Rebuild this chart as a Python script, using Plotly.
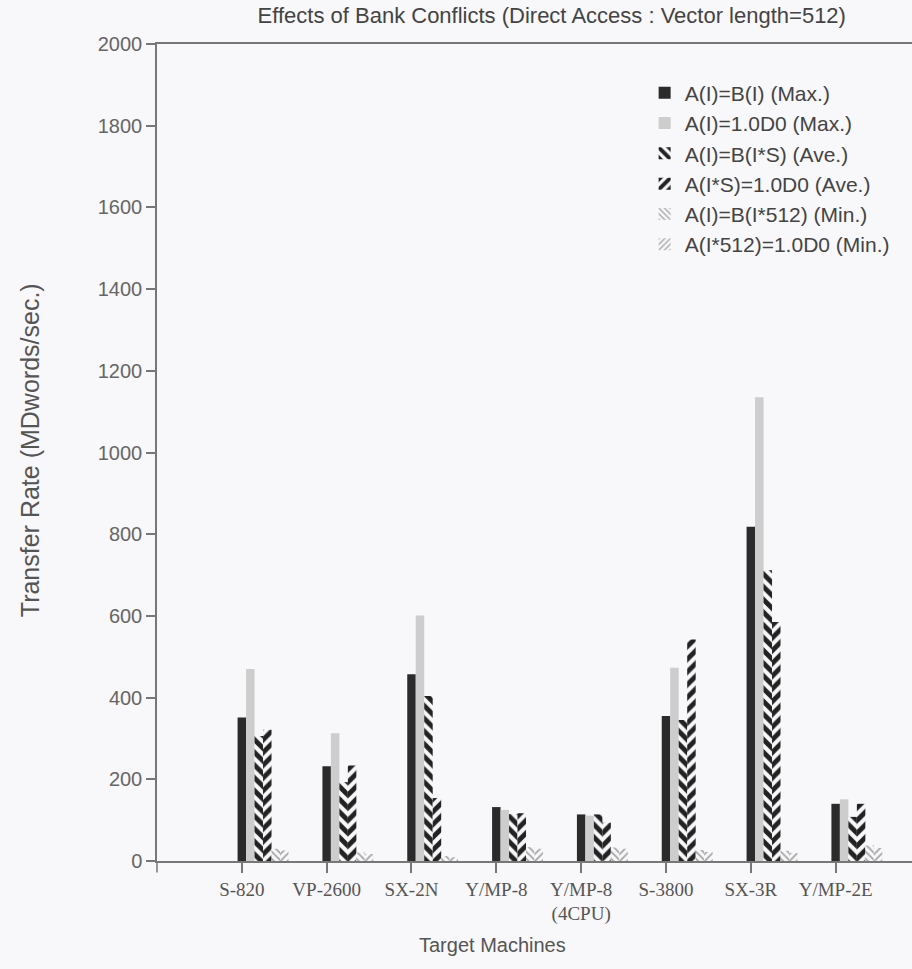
import plotly.graph_objects as go

machines = ["S-820", "VP-2600", "SX-2N", "Y/MP-8", "Y/MP-8<br>(4CPU)", "S-3800", "SX-3R", "Y/MP-2E"]
positions = [1, 2, 3, 4, 5, 6, 7, 8]

series_names = [
    "A(I)=B(I) (Max.)",
    "A(I)=1.0D0 (Max.)",
    "A(I)=B(I*S) (Ave.)",
    "A(I*S)=1.0D0 (Ave.)",
    "A(I)=B(I*512) (Min.)",
    "A(I*512)=1.0D0 (Min.)",
]
copy_max = [351, 232, 457, 132, 114, 355, 818, 140]
fill_max = [470, 313, 601, 125, 111, 473, 1135, 151]
copy_ave = [306, 193, 404, 115, 114, 345, 712, 108]
fill_ave = [321, 234, 154, 117, 94, 542, 585, 140]
copy_min = [30, 21, 12, 34, 33, 27, 25, 38]
fill_min = [26, 17, 9, 30, 30, 22, 20, 32]
series_values = [copy_max, fill_max, copy_ave, fill_ave, copy_min, fill_min]

tick_vals_y = [0, 200, 400, 600, 800, 1000, 1200, 1400, 1600, 1800, 2000]

bg = "#f8f7f9"
styles = [
    dict(color="#2b2b2b", pattern=None),
    dict(color="#cdcdcd", pattern=None),
    dict(color=bg, pattern=dict(shape="\\", fgcolor="#222222", bgcolor=bg, size=9, solidity=0.55, fillmode="replace")),
    dict(color=bg, pattern=dict(shape="/", fgcolor="#222222", bgcolor=bg, size=9, solidity=0.55, fillmode="replace")),
    dict(color=bg, pattern=dict(shape="\\", fgcolor="#a8a8a8", bgcolor=bg, size=5, solidity=0.35, fillmode="replace")),
    dict(color=bg, pattern=dict(shape="/", fgcolor="#a8a8a8", bgcolor=bg, size=5, solidity=0.35, fillmode="replace")),
]

bw = 0.1
fig = go.Figure()
for k, (name, vals, st) in enumerate(zip(series_names, series_values, styles)):
    marker = dict(color=st["color"], line=dict(width=0))
    if st["pattern"] is not None:
        marker["pattern"] = st["pattern"]
    fig.add_trace(go.Bar(
        x=positions, y=vals, name=name,
        width=bw, offset=-bw / 2 + k * bw,
        marker=marker,
    ))

axis_col = "#777777"
sans = "Liberation Sans, Arial, sans-serif"
fig.update_layout(
    width=912, height=969,
    paper_bgcolor=bg, plot_bgcolor=bg,
    barmode="overlay",
    margin=dict(l=157, r=0, t=44, b=108),
    title=dict(
        text="Effects of Bank Conflicts (Direct Access : Vector length=512)",
        x=0.605, xanchor="center", y=1 - 15 / 969, yanchor="middle",
        font=dict(family=sans, size=22, color="#444444"),
    ),
    xaxis=dict(
        range=[0, 8.9], tickvals=positions, ticktext=machines,
        showline=True, linecolor=axis_col, linewidth=1.5, mirror=True,
        ticks="outside", ticklen=10, tickcolor=axis_col, tickwidth=1.5,
        showgrid=False, zeroline=False,
        tickfont=dict(family="Liberation Serif, Times New Roman, serif", size=19, color="#555555"),
    ),
    yaxis=dict(
        range=[0, 2000], tickvals=tick_vals_y,
        showline=True, linecolor=axis_col, linewidth=1.5,
        ticks="outside", ticklen=9, tickcolor=axis_col, tickwidth=1.5,
        showgrid=False, zeroline=False,
        tickfont=dict(family=sans, size=20, color="#666666"),
    ),
    legend=dict(
        x=0.977, xanchor="right", y=0.965, yanchor="top",
        bgcolor="rgba(0,0,0,0)", borderwidth=0,
        font=dict(family=sans, size=21, color="#444444"),
        tracegroupgap=0,
    ),
    showlegend=True,
    annotations=[
        dict(text="Target Machines", xref="paper", yref="paper", x=0.444, y=-0.103,
             xanchor="center", yanchor="middle", showarrow=False,
             font=dict(family=sans, size=20, color="#555555")),
        dict(text="Transfer Rate (MDwords/sec.)", xref="paper", yref="paper", x=-0.168, y=0.503,
             xanchor="center", yanchor="middle", showarrow=False, textangle=-90,
             font=dict(family=sans, size=25, color="#555555")),
    ],
)

fig.add_shape(type="line", xref="paper", yref="paper", x0=0, x1=0, y0=0, y1=-0.014,
              line=dict(color=axis_col, width=1.5))

fig.write_html(
    "out.html",
    config={"displayModeBar": False},
    post_script="document.body.style.margin='0';document.body.style.overflow='hidden';",
)
